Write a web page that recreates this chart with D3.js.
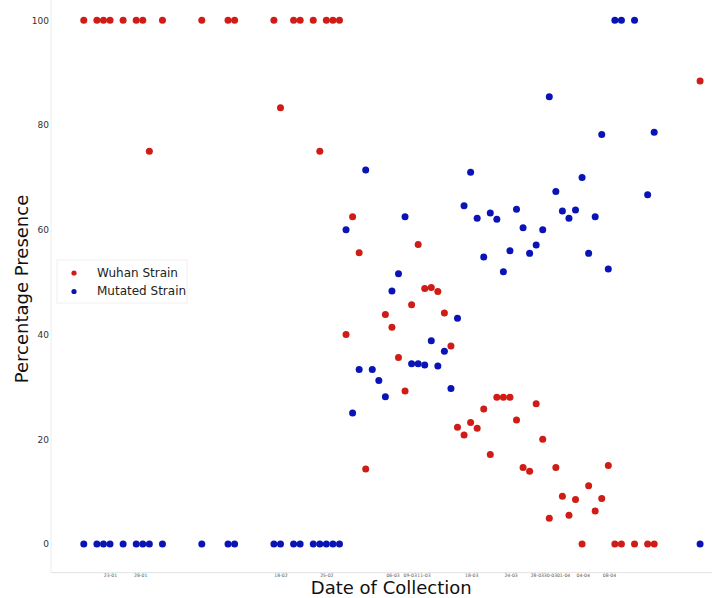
<!DOCTYPE html>
<html lang="en">
<head>
<meta charset="UTF-8">
<script src="https://d3js.org/d3.v7.min.js"></script>
<style>
  body { margin: 0; background: #fff; }
  svg text { font-family: "DejaVu Sans", sans-serif; }
  .y.axis text { font-size: 9px; fill: #333; }
  .x.axis text { font-size: 4.6px; fill: #555; }
</style>
</head>
<body>
<svg class="chart"></svg>
<script>

// sample number (position along x) for each collected sample
const sampleIdx = [0,2,3,4,6,8,9,10,12,18,22,23,29,30,32,33,35,36,37,38,39,
  40,41,42,43,44,45,46,47,48,49,50,51,52,53,54,55,56,57,58,59,60,
  61,62,63,64,65,66,67,68,69,70,71,72,73,74,75,76,77,78,79,80,
  81,82,84,86,87,94];

const wuhan = [100,100,100,100,100,100,100,75,100,100,100,100,100,83.3,100,100,100,75,100,100,100,
  40,62.5,55.6,14.3,null,null,43.8,41.4,35.6,29.2,45.7,57.2,48.8,49.0,48.2,44.1,37.8,22.3,20.8,23.2,22.1,
  25.8,17.1,28.0,28.0,28.0,23.7,14.6,13.9,26.8,20.0,4.9,14.6,9.1,5.5,8.5,0,11.1,6.3,8.7,15.0,
  0,0,0,0,0,88.4];

const mutated = [0,0,0,0,0,0,0,0,0,0,0,0,0,0,0,0,0,0,0,0,0,
  60,25,33.3,71.4,33.3,31.2,28.1,48.3,51.6,62.5,34.4,34.4,34.2,38.8,34.0,36.8,29.7,43.1,64.6,71.0,62.2,
  54.8,63.2,62.0,52.0,56.0,63.9,60.4,55.5,57.1,60.0,85.4,67.3,63.6,62.2,63.8,70.0,55.5,62.5,78.2,52.5,
  100,100,100,66.7,78.6,0];

// date labels and where they sit on the sample axis
const dateTicks = [4.0, 8.6, 30.0, 37.0, 47.1, 49.7, 51.8, 59.1, 65.1, 69.1, 71.1, 73.1, 76.1, 80.1];
const dateLabels = ["23-01","28-01","18-02","25-02","06-03","09-03","11-03","18-03","24-03","28-03","30-03","01-04","04-04","08-04"];

const yTicks = [0, 20, 40, 60, 80, 100];

const width = 712, height = 598;

const svg = d3.select(".chart")
    .attr("width", width)
    .attr("height", height);

const x = d3.scaleLinear()
    .domain([-5, 96])
    .range([51, 713.2]);

const y = d3.scaleLinear()
    .domain([0, 100])
    .range([544, 20.3]);

const bottomY = y(-5.47);

// spines
svg.append("line")
    .attr("x1", x(-5)).attr("x2", width)
    .attr("y1", bottomY).attr("y2", bottomY)
    .attr("stroke", "#e3e3e3").attr("stroke-width", 1);
svg.append("line")
    .attr("x1", x(-5)).attr("x2", x(-5))
    .attr("y1", 0).attr("y2", bottomY)
    .attr("stroke", "#ececec").attr("stroke-width", 1);

svg.append("g")
    .attr("class", "y axis")
    .attr("transform", `translate(${x(-5)},0)`)
    .call(d3.axisLeft(y).tickValues(yTicks).tickSize(0).tickPadding(2))
    .call(g => g.select(".domain").remove());

svg.append("g")
    .attr("class", "x axis")
    .attr("transform", `translate(0,${bottomY})`)
    .call(d3.axisBottom(x).tickValues(dateTicks)
            .tickFormat((d, i) => dateLabels[i]).tickSize(0).tickPadding(1))
    .call(g => g.select(".domain").remove());

const red = "#d01c17", blue = "#0a14b6";

const wuhanPts = sampleIdx.map((s, i) => ({s, v: wuhan[i]})).filter(d => d.v != null);
const mutPts = sampleIdx.map((s, i) => ({s, v: mutated[i]})).filter(d => d.v != null);

svg.append("g").selectAll("circle")
  .data(wuhanPts)
  .enter().append("circle")
    .attr("cx", d => x(d.s))
    .attr("cy", d => y(d.v))
    .attr("r", 3.5)
    .attr("fill", red);

svg.append("g").selectAll("circle")
  .data(mutPts)
  .enter().append("circle")
    .attr("cx", d => x(d.s))
    .attr("cy", d => y(d.v))
    .attr("r", 3.5)
    .attr("fill", blue);

// legend
const legend = svg.append("g").attr("transform", "translate(57,260)");
legend.append("rect")
    .attr("width", 130).attr("height", 43)
    .attr("fill", "#fff").attr("stroke", "#f0f0f0");
[["Wuhan Strain", red], ["Mutated Strain", blue]].forEach(([label, c], i) => {
  legend.append("circle")
      .attr("cx", 17).attr("cy", 13 + i * 18.5)
      .attr("r", 2.6).attr("fill", c);
  legend.append("text")
      .attr("x", 40).attr("y", 16.5 + i * 18.5)
      .attr("font-size", 12).attr("fill", "#222")
      .text(label);
});

// axis titles
svg.append("text")
    .attr("transform", `translate(${x(46.9)},594)`)
    .attr("text-anchor", "middle")
    .attr("font-size", 18).attr("fill", "#111")
    .text("Date of Collection");
svg.append("text")
    .attr("transform", `translate(28,289) rotate(-90)`)
    .attr("text-anchor", "middle")
    .attr("font-size", 18).attr("fill", "#111")
    .text("Percentage Presence");

</script>
</body>
</html>
